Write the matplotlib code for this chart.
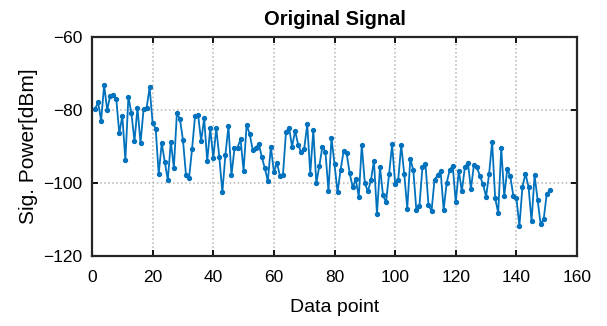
import numpy as np
import matplotlib
matplotlib.use("Agg")
import matplotlib.pyplot as plt

# Received signal power readings, one per data point (1..151)
sig_power = [
    -79.7, -77.9, -82.9, -73.2, -80.0, -76.1, -75.8, -77.0, -86.4, -81.6,
    -93.8, -76.4, -80.9, -88.6, -79.4, -89.1, -79.8, -79.5, -73.8, -83.6,
    -85.1, -97.5, -89.1, -94.2, -99.2, -88.7, -95.8, -80.9, -82.5, -88.2,
    -97.8, -98.7, -90.7, -81.6, -81.4, -88.5, -82.3, -94.0, -85.0, -93.2,
    -85.0, -93.0, -102.6, -92.3, -84.5, -97.9, -90.5, -90.3, -88.0, -96.6,
    -84.1, -86.5, -90.9, -90.5, -89.2, -92.9, -95.9, -99.5, -90.0, -97.0,
    -94.5, -98.0, -97.7, -85.9, -84.9, -90.0, -85.7, -89.5, -91.6, -90.6,
    -83.9, -97.5, -85.5, -100.0, -95.3, -90.0, -91.4, -102.2, -87.7, -94.8,
    -102.6, -96.4, -91.3, -91.9, -97.3, -101.2, -98.9, -103.8, -89.6, -100.0,
    -102.3, -99.3, -93.9, -108.5, -95.6, -103.4, -105.2, -97.6, -89.4, -100.2,
    -99.3, -89.6, -97.5, -107.0, -93.4, -96.5, -107.5, -106.4, -95.7, -94.8,
    -106.0, -107.7, -99.1, -97.9, -96.7, -107.3, -100.0, -96.4, -95.3, -105.3,
    -96.6, -102.3, -95.7, -94.4, -101.6, -95.0, -95.7, -98.2, -100.3, -103.8,
    -97.5, -88.7, -104.2, -108.2, -90.5, -103.6, -96.1, -98.2, -103.6, -104.1,
    -111.8, -101.0, -97.5, -101.0, -110.5, -97.9, -104.6, -111.3, -109.9, -103.1,
    -102.0,
]
data_point = np.arange(1, len(sig_power) + 1)

plt.rcParams['font.family'] = ['Liberation Sans', 'DejaVu Sans']

fig = plt.figure(figsize=(6.07, 3.26), dpi=100)
ax = fig.add_axes([0.1516, 0.2147, 0.7990, 0.6718])

ax.plot(data_point, sig_power, color='#0072BD', linewidth=1.3,
        marker='o', markersize=2.8)

ax.set_xlim(0, 160)
ax.set_ylim(-120, -60)
ax.set_xticks(np.arange(0, 161, 20))
ax.set_yticks(np.arange(-120, -59, 20))
ax.grid(True, linestyle=':', color='#b4b4b4', linewidth=1.1)
ax.tick_params(direction='in', length=4, width=1.3, labelsize=12.5,
               top=True, right=True)
ax.tick_params(axis='y', pad=7)
ax.tick_params(axis='x', pad=10)
for s in ax.spines.values():
    s.set_linewidth(1.6)
    s.set_color('#262626')

ax.set_title('Original Signal', fontsize=14.5, fontweight='bold', pad=9)
ax.set_xlabel('Data point', fontsize=14, labelpad=10)
ax.set_ylabel('Sig. Power[dBm]', fontsize=15, labelpad=4)

fig.savefig('out.png', dpi=100)
